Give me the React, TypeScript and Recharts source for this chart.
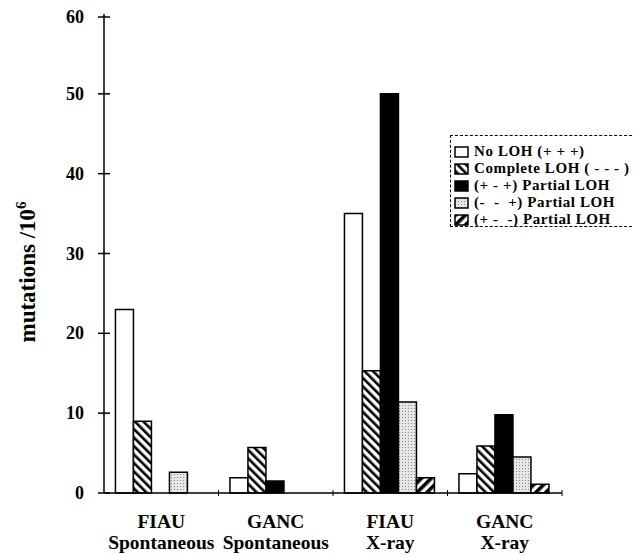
import * as React from 'react';
import { BarChart, Bar, XAxis, YAxis, Label } from 'recharts';

const categories = ['FIAU\nSpontaneous', 'GANC\nSpontaneous', 'FIAU\nX-ray', 'GANC\nX-ray'];
const noLoh = [23, 1.9, 35, 2.4];
const completeLoh = [9, 5.7, 15.3, 5.9];
const partialPMMP = [0, 1.5, 50, 9.8];
const partialMMP = [2.6, 0, 11.4, 4.5];
const partialPMM = [0, 0, 1.9, 1.1];
const yTicks = [0, 10, 20, 30, 40, 50, 60];

const seriesNames = [
  'No LOH (+ + +)',
  'Complete LOH ( - - - )',
  '(+ - +) Partial LOH',
  '(-  -  +) Partial LOH',
  '(+ -  -) Partial LOH',
];
const seriesFills = ['#ffffff', 'url(#hatchBack)', '#000000', 'url(#stipple)', 'url(#hatchFwd)'];

const data = categories.map((c, i) => ({
  cat: c,
  noLoh: noLoh[i],
  completeLoh: completeLoh[i],
  partialPMMP: partialPMMP[i],
  partialMMP: partialMMP[i],
  partialPMM: partialPMM[i],
}));
const keys = ['noLoh', 'completeLoh', 'partialPMMP', 'partialMMP', 'partialPMM'];

const FONT = '"Liberation Serif", "Times New Roman", serif';
const W = 634;
const H = 548;
const PLOT_W = 458;
const BAND = PLOT_W / categories.length;

const YTick = (props: any) => {
  const { x, y, payload } = props;
  return (
    <g>
      <line x1={x - 6} x2={x + 6} y1={y} y2={y} stroke="#000" strokeWidth={1.5} />
      <text x={x - 20} y={y} dy={6} textAnchor="end" fontFamily={FONT} fontWeight="bold" fontSize={18} fill="#000">
        {payload.value}
      </text>
    </g>
  );
};

const XTick = (props: any) => {
  const { x, y, payload } = props;
  const [a, b] = String(payload.value).split('\n');
  return (
    <g>
      <line x1={x + BAND / 2} x2={x + BAND / 2} y1={y - 3} y2={y + 3} stroke="#000" strokeWidth={1} />
      <text x={x} y={y + 35} textAnchor="middle" fontFamily={FONT} fontWeight="bold" fontSize={19.5} fill="#000">
        {a}
      </text>
      <text x={x} y={y + 56} textAnchor="middle" fontFamily={FONT} fontWeight="bold" fontSize={19.5} fill="#000">
        {b}
      </text>
    </g>
  );
};

const YLabel = () => (
  <text
    transform="translate(27, 264) rotate(-90)"
    textAnchor="middle"
    fontFamily={FONT}
    fontWeight="bold"
    fontSize={23}
    fill="#000"
  >
    mutations /10<tspan dy={-9} fontSize={15}>6</tspan>
  </text>
);

const Swatch = ({ fill }: { fill: string }) => (
  <svg width={15} height={12} style={{ display: 'block', marginRight: 5 }}>
    <rect x={1} y={1} width={13} height={10} fill={fill} stroke="#000" strokeWidth={1.5} />
  </svg>
);

const App = () => (
  <div style={{ position: 'relative', width: W, height: H }}>
    <BarChart
      width={W}
      height={H}
      data={data}
      margin={{ top: 6, right: 80, bottom: 0, left: 0 }}
      barCategoryGap="10%"
      barGap={0}
    >
      <defs>
        <pattern id="hatchBack" width={6} height={6} patternUnits="userSpaceOnUse" patternTransform="rotate(-45)">
          <rect width={6} height={6} fill="#fff" />
          <rect width={2.6} height={6} fill="#000" />
        </pattern>
        <pattern id="hatchFwd" width={7} height={7} patternUnits="userSpaceOnUse" patternTransform="rotate(45)">
          <rect width={7} height={7} fill="#fff" />
          <rect width={3.6} height={7} fill="#000" />
        </pattern>
        <pattern id="stipple" width={3} height={3} patternUnits="userSpaceOnUse">
          <rect width={3} height={3} fill="#e6e6e6" />
          <rect x={1} y={1} width={1} height={1} fill="#888" />
        </pattern>
      </defs>
      <XAxis
        dataKey="cat"
        height={63}
        tickLine={false}
        tickSize={0}
        tickMargin={0}
        axisLine={{ stroke: '#000', strokeWidth: 1.5 }}
        tick={<XTick />}
        interval={0}
      />
      <YAxis
        width={96}
        domain={[0, 60]}
        ticks={yTicks}
        tickLine={false}
        tickSize={0}
        tickMargin={0}
        axisLine={{ stroke: '#000', strokeWidth: 1.5 }}
        tick={<YTick />}
      >
        <Label content={<YLabel />} />
      </YAxis>
      {keys.map((k, i) => (
        <Bar
          key={k}
          dataKey={k}
          name={seriesNames[i]}
          fill={seriesFills[i]}
          stroke="#000"
          strokeWidth={1.5}
          isAnimationActive={false}
        />
      ))}
    </BarChart>
    <div
      style={{
        position: 'absolute',
        left: 442,
        top: 127,
        width: 192,
        height: 92,
        border: '1px dashed #000',
        boxSizing: 'border-box',
        padding: '7px 0 0 3px',
        fontFamily: FONT,
        fontWeight: 'bold',
        fontSize: 15,
        letterSpacing: 0.6,
        lineHeight: '17px',
        background: '#fff',
      }}
    >
      {seriesNames.map((n, i) => (
        <div key={n} style={{ display: 'flex', alignItems: 'center', whiteSpace: 'pre', height: 17 }}>
          <Swatch fill={seriesFills[i]} />
          <span>{n}</span>
        </div>
      ))}
    </div>
  </div>
);

export default App;
